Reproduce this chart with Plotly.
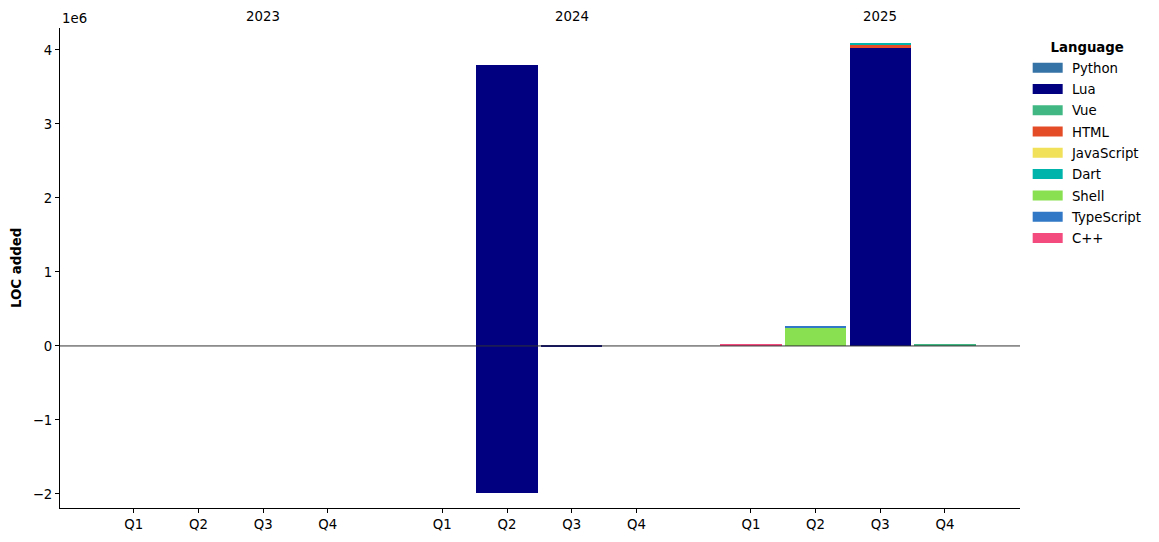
import plotly.graph_objects as go

years = ["2023", "2024", "2025"]
quarters = ["Q1", "Q2", "Q3", "Q4"]
languages = ["Python", "Lua", "Vue", "HTML", "JavaScript", "Dart", "Shell", "TypeScript", "C++"]
colors = ["#3572A5", "#000080", "#41B883", "#E34C26", "#F1E05A", "#00B4AB", "#89E051", "#3178C6", "#F34B7D"]

# values per quarter: 2023 Q1..Q4, 2024 Q1..Q4, 2025 Q1..Q4
python_vals = [0, 0, 0, 0, 0, 0, 0, 0, 0, 0, 0, 0]
lua_pos = [0, 0, 0, 0, 0, 3800000, 0, 0, 0, 0, 4030000, 0]
lua_neg = [0, 0, 0, 0, 0, -1985000, -8000, 0, 0, 0, 0, 0]
vue_vals = [0, 0, 0, 0, 0, 0, 0, 0, 0, 0, 0, 25000]
html_vals = [0, 0, 0, 0, 0, 0, 0, 0, 0, 0, 50000, 0]
js_vals = [0, 0, 0, 0, 0, 0, 0, 0, 0, 0, 0, 0]
dart_vals = [0, 0, 0, 0, 0, 0, 0, 0, 0, 0, 14000, 0]
shell_vals = [0, 0, 0, 0, 0, 0, 0, 0, 0, 245000, 0, 0]
ts_vals = [0, 0, 0, 0, 0, 0, 0, 0, 0, 25000, 0, 0]
cpp_vals = [0, 0, 0, 0, 0, 0, 0, 0, 15000, 0, 0, 0]

series = [python_vals, lua_pos, vue_vals, html_vals, js_vals, dart_vals, shell_vals, ts_vals, cpp_vals]

group_step = 4.77
xpos = [g * group_step + q for g in range(len(years)) for q in range(len(quarters))]
xlabels = [q for _ in years for q in quarters]

fig = go.Figure()
for name, col, vals in zip(languages, colors, series):
    fig.add_trace(go.Bar(x=xpos, y=vals, name=name, marker=dict(color=col, line=dict(width=0)),
                         width=0.95, legendgroup=name, showlegend=False))
    if name == "Lua":
        fig.add_trace(go.Bar(x=xpos, y=lua_neg, name=name, marker=dict(color=col, line=dict(width=0)),
                             width=0.95, legendgroup=name, showlegend=False))
# legend entries drawn as wide patches
for name, col in zip(languages, colors):
    fig.add_trace(go.Scatter(x=[None], y=[None], mode="lines", name="\u00a0" + name,
                             line=dict(color=col, width=10), legendgroup=name))

font = "DejaVu Sans"
fs = 13.3
fig.update_layout(
    barmode="relative",
    width=1159, height=542,
    margin=dict(l=52, r=147, t=20, b=42, autoexpand=False),
    plot_bgcolor="white", paper_bgcolor="white",
    font=dict(family=font, size=fs, color="black"),
    bargap=0,
    legend=dict(x=1.008, y=0.985, xanchor="left", yanchor="top",
                title=dict(text="<b>Language</b>", font=dict(size=fs), side="top center"),
                font=dict(size=fs), tracegroupgap=1),
    xaxis=dict(range=[-1.14, 13.70], tickmode="array", tickvals=xpos, ticktext=xlabels,
               showline=True, linecolor="black", linewidth=1, ticks="outside", ticklen=4,
               tickcolor="black", showgrid=False, zeroline=False, mirror=False, automargin=False),
    yaxis=dict(range=[-2.19e6, 4.297e6], tickmode="array",
               tickvals=[-2e6, -1e6, 0, 1e6, 2e6, 3e6, 4e6],
               ticktext=["\u22122", "\u22121", "0", "1", "2", "3", "4"],
               showline=True, linecolor="black", linewidth=1, ticks="outside", ticklen=4,
               tickcolor="black", showgrid=False, zeroline=False, automargin=False),
)
fig.add_hline(y=0, line=dict(color="#333333", width=1))
for g, yr in enumerate(years):
    fig.add_annotation(x=g * group_step + 2, y=1.0, xref="x", yref="paper", text=yr,
                       showarrow=False, yanchor="bottom", yshift=2, font=dict(size=fs))
fig.add_annotation(x=0, y=1.0, xref="paper", yref="paper", text="1e6", showarrow=False,
                   xanchor="left", yanchor="bottom", yshift=0, font=dict(size=fs))
fig.add_annotation(x=0, y=0.5, xref="paper", yref="paper", text="<b>LOC added</b>",
                   showarrow=False, textangle=-90, xanchor="center", yanchor="middle",
                   xshift=-44, font=dict(size=fs))

fig.write_html("out.html")
